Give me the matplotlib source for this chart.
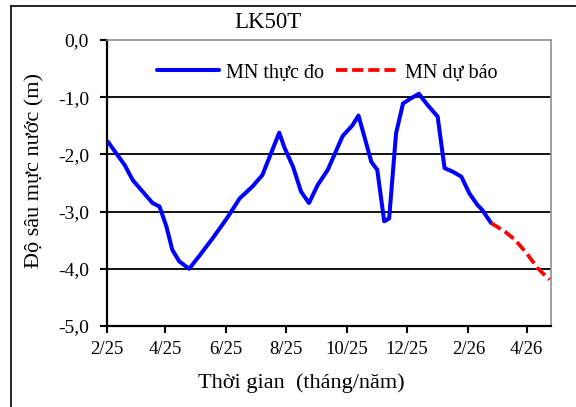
import matplotlib
matplotlib.use("Agg")
import matplotlib.pyplot as plt
from matplotlib.lines import Line2D
import pandas as pd

plt.rcParams['font.family'] = ['Liberation Serif', 'DejaVu Serif']

title = "LK50T"
obs_dates = ["2025-02-02", "2025-02-19", "2025-02-27", "2025-03-09", "2025-03-19",
             "2025-03-26", "2025-04-02", "2025-04-08", "2025-04-15", "2025-04-25",
             "2025-05-05", "2025-05-19", "2025-06-02", "2025-06-15", "2025-06-28",
             "2025-07-08", "2025-07-16", "2025-07-25", "2025-07-30", "2025-08-08",
             "2025-08-16", "2025-08-24", "2025-09-02", "2025-09-12", "2025-09-27",
             "2025-10-07", "2025-10-13", "2025-10-19", "2025-10-26", "2025-11-01",
             "2025-11-08", "2025-11-13", "2025-11-20", "2025-11-27", "2025-12-05",
             "2025-12-13", "2025-12-22", "2026-01-01", "2026-01-08", "2026-01-16",
             "2026-01-25", "2026-02-02", "2026-02-10", "2026-02-15", "2026-02-24"]
obs_values = [-1.78, -2.19, -2.45, -2.65, -2.85,
              -2.91, -3.26, -3.67, -3.87, -4.00,
              -3.78, -3.46, -3.12, -2.77, -2.56,
              -2.36, -2.01, -1.62, -1.87, -2.22,
              -2.65, -2.85, -2.53, -2.27, -1.68,
              -1.49, -1.32, -1.69, -2.13, -2.27,
              -3.17, -3.12, -1.63, -1.11, -1.02,
              -0.94, -1.14, -1.34, -2.24, -2.30,
              -2.39, -2.68, -2.88, -2.97, -3.20]
fc_dates = ["2026-02-24", "2026-03-10", "2026-03-20", "2026-04-01", "2026-04-12", "2026-04-24"]
fc_values = [-3.20, -3.35, -3.49, -3.73, -3.99, -4.19]
tick_dates = ["2025-02-01", "2025-04-01", "2025-06-01", "2025-08-01", "2025-10-01",
              "2025-12-01", "2026-02-01", "2026-04-01"]
tick_labels = ["2/25", "4/25", "6/25", "8/25", "10/25", "12/25", "2/26", "4/26"]
y_ticks = [0, -1, -2, -3, -4, -5]
y_labels = ["0,0", "-1,0", "-2,0", "-3,0", "-4,0", "-5,0"]

W, H = 576, 407
fig = plt.figure(figsize=(W / 100, H / 100), dpi=100)
ax = fig.add_axes([107 / W, 1 - 326 / H, (551 - 107) / W, (326 - 40) / H])

ax.plot(pd.to_datetime(obs_dates), obs_values, color='#0000ff', lw=2.9,
        solid_joinstyle='round', solid_capstyle='round', label='MN thực đo', zorder=3)
ax.plot(pd.to_datetime(fc_dates), fc_values, color='#ff0000', lw=2.7,
        linestyle=(0, (3.0, 1.3)), label='MN dự báo', zorder=3)

ax.set_xlim(pd.Timestamp("2025-02-01"), pd.Timestamp("2026-04-25 12:00"))
ax.set_ylim(-5, 0)
ax.set_yticks(y_ticks)
ax.set_yticklabels(y_labels, fontsize=14)
ax.set_xticks(pd.to_datetime(tick_dates))
ax.set_xticklabels(tick_labels, fontsize=13.5)
for y in [-1, -2, -3, -4]:
    ax.axhline(y, color='black', lw=1.3, zorder=1)

for s in ['top', 'right']:
    ax.spines[s].set_color('#909090')
    ax.spines[s].set_linewidth(1.2)
for s in ['left', 'bottom']:
    ax.spines[s].set_color('black')
    ax.spines[s].set_linewidth(1.6)
ax.tick_params(axis='y', direction='out', length=5, width=1.5, pad=8)
ax.tick_params(axis='x', direction='out', length=5, width=1.5, pad=6)

fig.text(268 / W, 1 - 23 / H, title, fontsize=16.5, ha='center', va='center')
fig.text(35 / W, 1 - 171 / H, "Độ sâu mực nước (m)", fontsize=16, rotation=90,
         ha='center', va='center')
fig.text(301 / W, 1 - 383 / H, "Thời gian  (tháng/năm)", fontsize=16,
         ha='center', va='center')

ax.legend(loc='center left', bbox_to_anchor=(157 / W, 1 - 73 / H),
          bbox_transform=fig.transFigure, ncol=2, frameon=False,
          fontsize=14.5, handlelength=3.1, columnspacing=0.55, handletextpad=0.35,
          borderpad=0, borderaxespad=0)

fig.add_artist(Line2D([11 / W, 11 / W], [0, 1 - 6 / H], color='black', lw=1.2))
fig.add_artist(Line2D([11 / W, 1], [1 - 6 / H, 1 - 6 / H], color='black', lw=1.2))

fig.savefig("out.png", dpi=100)
